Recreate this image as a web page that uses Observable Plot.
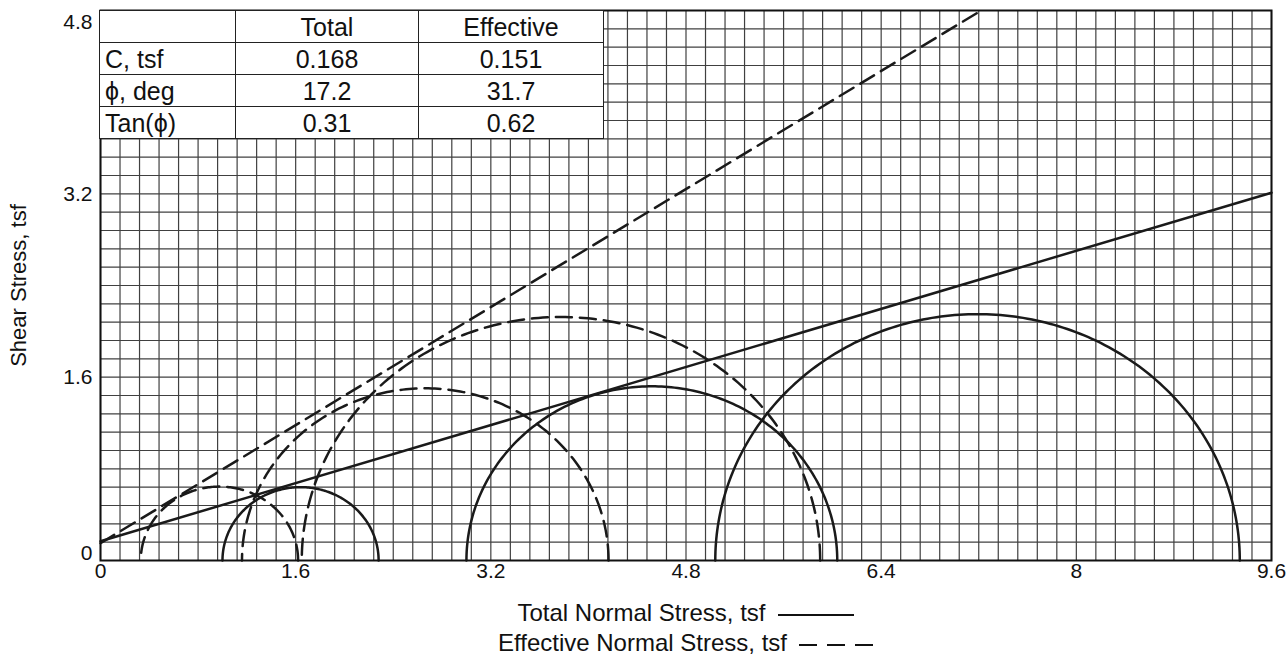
<!DOCTYPE html>
<html>
<head>
<meta charset="utf-8">
<script src="https://cdn.jsdelivr.net/npm/d3@7"></script>
<script src="https://cdn.jsdelivr.net/npm/@observablehq/plot@0.6"></script>
<style>
  body { margin: 0; background: #fff; color: #111; font-family: "Liberation Sans", Arial, sans-serif; }
  #wrap { position: relative; width: 1286px; height: 660px; overflow: hidden; }
  #tbl { position: absolute; left: 99px; top: 10px; width: 504px; height: 127px; border-collapse: collapse;
         table-layout: fixed; background: #fff; font-size: 25px; }
  #tbl td { border: 1.6px solid #222; padding: 0 5px; height: 31px; line-height: 28px; white-space: nowrap; }
  #tbl td.v { text-align: center; }
  #legend { padding: 8px 15px 0 100px; text-align: center; font-size: 24px; line-height: 30px; }
  .sw { display: inline-block; height: 2px; vertical-align: middle; margin-left: 12px; }
  .solid { width: 76px; background: #111; }
  .dash { width: 74px; background: repeating-linear-gradient(to right, #111 0 18px, transparent 18px 28px); }
</style>
</head>
<body>
<div id="wrap"></div>
<script>
// ---- data ----
const xTicks = [0, 1.6, 3.2, 4.8, 6.4, 8, 9.6];
const xTickLabels = ["0", "1.6", "3.2", "4.8", "6.4", "8", "9.6"];
const yTicks = [0, 1.6, 3.2, 4.8];
const yTickLabels = ["0", "1.6", "3.2", "4.8"];
const gridStep = 0.16;

// Mohr circles: minor / major principal stresses (tsf)
const totalSigma3 = [1.0, 3.0, 5.04];
const totalSigma1 = [2.28, 6.04, 9.34];
const effSigma3 = [0.33, 1.16, 1.65];
const effSigma1 = [1.62, 4.165, 5.90];

// failure envelopes (end points)
const totalEnvX = [0, 9.6];
const totalEnvY = [0.168, 3.21];
const effEnvX = [0, 7.22];
const effEnvY = [0.151, 4.8];

// table
const tableHeader = ["", "Total", "Effective"];
const tableRowLabels = ["C, tsf", "\u03D5, deg", "Tan(\u03D5)"];
const tableTotal = ["0.168", "17.2", "0.31"];
const tableEffective = ["0.151", "31.7", "0.62"];

const xLabel = "Total Normal Stress, tsf";
const xLabel2 = "Effective Normal Stress, tsf";
const yLabel = "Shear Stress, tsf";

// ---- build ----
function semicircles(s3, s1, kind) {
  const pts = [];
  s3.forEach((a, i) => {
    const b = s1[i], c = (a + b) / 2, r = (b - a) / 2;
    for (let k = 0; k <= 180; k++) {
      const t = Math.PI * k / 180;
      pts.push({ id: kind + i, x: c + r * Math.cos(t), y: r * Math.sin(t) });
    }
  });
  return pts;
}
const totalPts = semicircles(totalSigma3, totalSigma1, "t");
const effPts = semicircles(effSigma3, effSigma1, "e");
const totalEnv = totalEnvX.map((x, i) => ({ x, y: totalEnvY[i] }));
const effEnv = effEnvX.map((x, i) => ({ x, y: effEnvY[i] }));

const gridX = d3.range(Math.round(9.6 / gridStep) + 1).map(i => +(i * gridStep).toFixed(2));
const gridY = d3.range(Math.round(4.8 / gridStep) + 1).map(i => +(i * gridStep).toFixed(2));

const yMin = d3.min(yTicks), yMax = d3.max(yTicks);
const yLab = d => yTickLabels[yTicks.indexOf(d)];
const ink = "#1a1a1a";
const tickFont = 21;

const plot = Plot.plot({
  width: 1286,
  height: 590,
  marginLeft: 100,
  marginRight: 15,
  marginTop: 10,
  marginBottom: 30,
  x: { domain: [0, 9.6], axis: null },
  y: { domain: [0, 4.8], axis: null },
  style: { fontFamily: "Liberation Sans, Arial, sans-serif", color: "#111", background: "#fff" },
  marks: [
    Plot.ruleX(gridX, { stroke: "#404040", strokeWidth: 1.2 }),
    Plot.ruleY(gridY, { stroke: "#404040", strokeWidth: 1.2 }),
    Plot.line(totalPts, { x: "x", y: "y", z: "id", stroke: ink, strokeWidth: 2.5 }),
    Plot.line(effPts, { x: "x", y: "y", z: "id", stroke: ink, strokeWidth: 2.5, strokeDasharray: "16,8" }),
    Plot.line(totalEnv, { x: "x", y: "y", stroke: ink, strokeWidth: 2.5 }),
    Plot.line(effEnv, { x: "x", y: "y", stroke: ink, strokeWidth: 2.5, strokeDasharray: "16,8" }),
    Plot.frame({ stroke: "#111", strokeWidth: 2 }),
    // x tick labels
    Plot.text(xTicks, { x: d => d, text: d => xTickLabels[xTicks.indexOf(d)], frameAnchor: "bottom",
      lineAnchor: "top", textAnchor: "middle", dy: 3, fontSize: tickFont, fill: "#111" }),
    // y tick labels (top label sits below its line, bottom label above it, as in the reference)
    Plot.text(yTicks.filter(d => d > yMin && d < yMax), { y: d => d, text: yLab, frameAnchor: "left",
      textAnchor: "end", lineAnchor: "middle", dx: -8, fontSize: tickFont, fill: "#111" }),
    Plot.text(yTicks.filter(d => d === yMax), { y: d => d, text: yLab, frameAnchor: "left",
      textAnchor: "end", lineAnchor: "top", dx: -8, dy: 4, fontSize: tickFont, fill: "#111" }),
    Plot.text(yTicks.filter(d => d === yMin), { y: d => d, text: yLab, frameAnchor: "left",
      textAnchor: "end", lineAnchor: "bottom", dx: -8, dy: -1, fontSize: tickFont, fill: "#111" }),
    // y axis title
    Plot.text([yLabel], { text: d => d, frameAnchor: "left", rotate: -90, dx: -82, fontSize: 22, textAnchor: "middle", fill: "#111" })
  ]
});

const wrap = document.getElementById("wrap");
wrap.appendChild(plot);

// table overlay
const tbl = document.createElement("table");
tbl.id = "tbl";
const cg = document.createElement("colgroup");
[136, 183, 185].forEach(w => { const c = document.createElement("col"); c.style.width = w + "px"; cg.appendChild(c); });
tbl.appendChild(cg);
const rows = [tableHeader].concat(tableRowLabels.map((l, i) => [l, tableTotal[i], tableEffective[i]]));
rows.forEach(r => {
  const tr = document.createElement("tr");
  r.forEach((v, j) => {
    const td = document.createElement("td");
    td.textContent = v;
    if (j > 0) td.className = "v";
    tr.appendChild(td);
  });
  tbl.appendChild(tr);
});
wrap.appendChild(tbl);

// legend
const legend = document.createElement("div");
legend.id = "legend";
[[xLabel, "solid"], [xLabel2, "dash"]].forEach(([t, cls]) => {
  const line = document.createElement("div");
  line.appendChild(document.createTextNode(t));
  const sw = document.createElement("span");
  sw.className = "sw " + cls;
  line.appendChild(sw);
  legend.appendChild(line);
});
wrap.appendChild(legend);
</script>
</body>
</html>
